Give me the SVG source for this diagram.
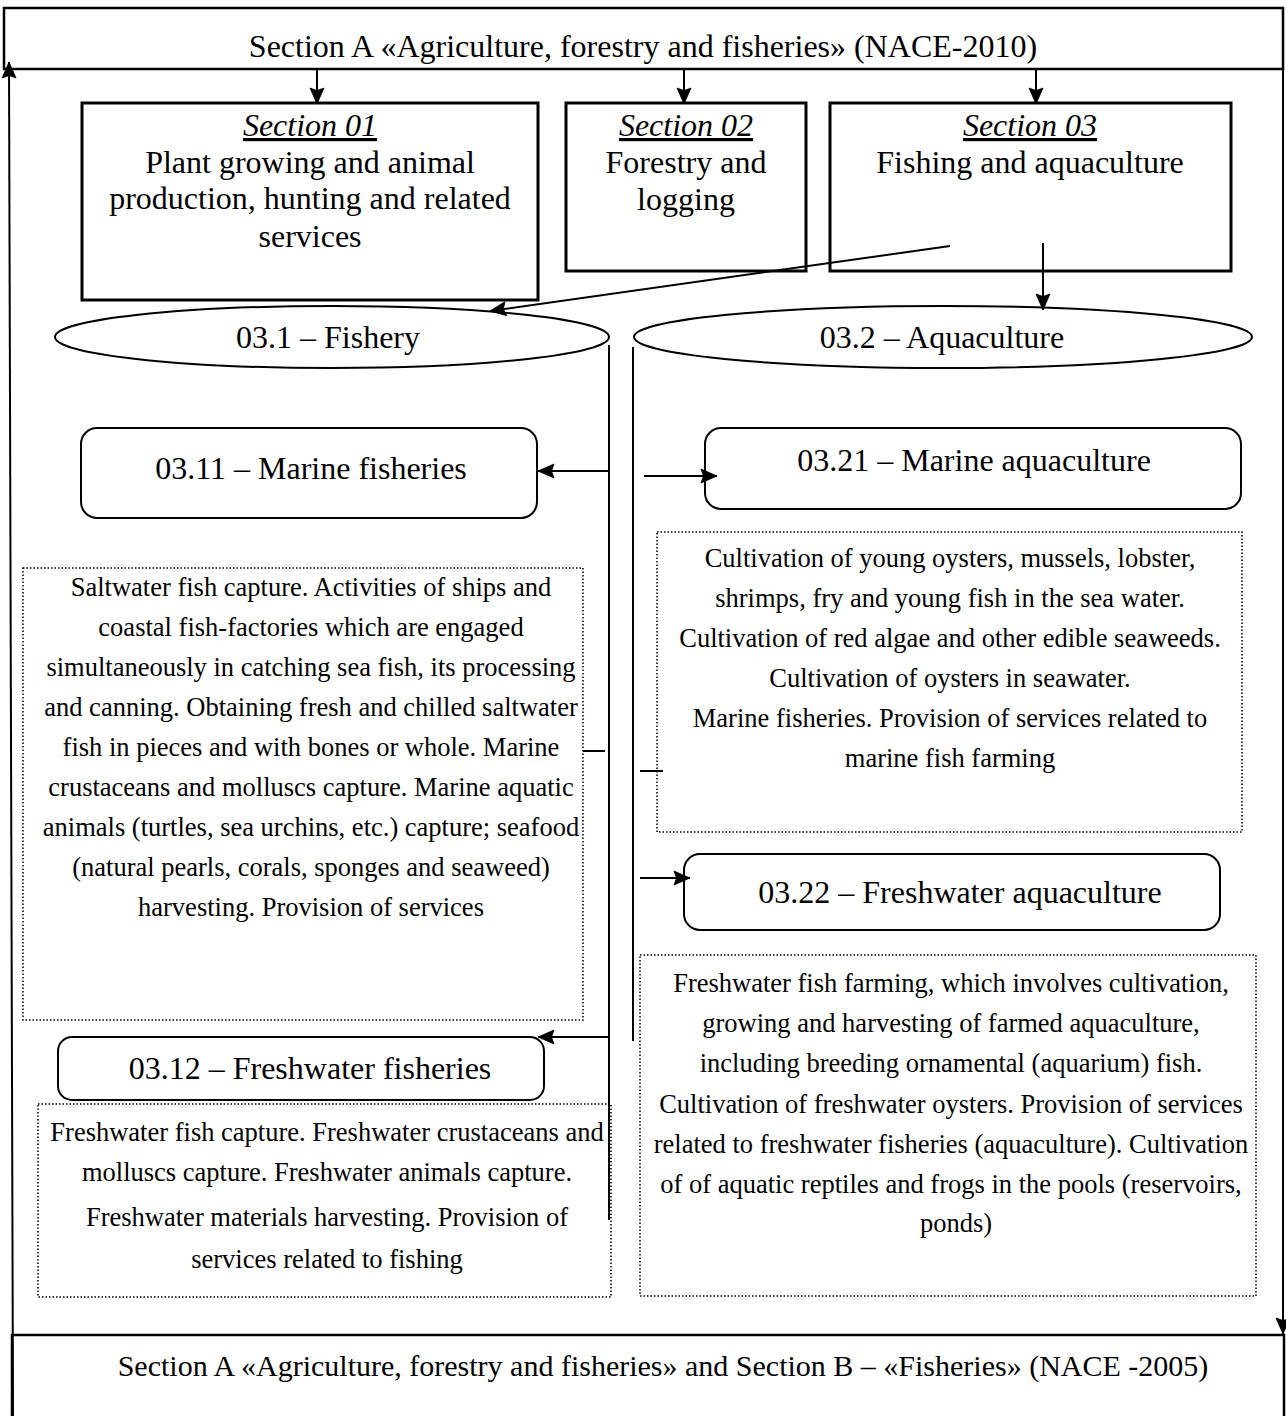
<svg xmlns="http://www.w3.org/2000/svg" width="1286" height="1416" viewBox="0 0 1286 1416">
<style>
text{fill:#000;text-anchor:middle;}
.t28{font-size:32px;}
.tb{font-size:30px;}
.t22{font-size:26.5px;}
.hd{font-style:italic;text-decoration:underline;}
.box{fill:none;stroke:#000;stroke-width:3;}
.rr{fill:none;stroke:#000;stroke-width:2;}
.dot{fill:none;stroke:#000;stroke-width:1.5;stroke-dasharray:1.5 2;}
.ln{fill:none;stroke:#000;stroke-width:2;}
</style>
<defs>
<marker id="ah" markerUnits="userSpaceOnUse" viewBox="0 0 16 16" markerWidth="16" markerHeight="16" refX="16" refY="8" orient="auto" overflow="visible">
<path d="M0,1 L16,8 L0,15 L2.5,8 Z" fill="#000" stroke="#000" stroke-width="0.8"/>
</marker>
</defs>
<rect width="1286" height="1416" fill="#fff"/>
<g font-family="Liberation Serif, serif">

<g id="top">
<rect x="4" y="8" width="1279" height="61" class="box" style="stroke-width:2.5"/>
<text class="t28" x="643" y="57">Section A «Agriculture, forestry and fisheries» (NACE-2010)</text>
</g>

<g id="bottom">
<rect x="12" y="1335" width="1272" height="120" class="box" style="stroke-width:2.5"/>
<text class="tb" x="663" y="1376">Section A «Agriculture, forestry and fisheries» and Section B – «Fisheries» (NACE -2005)</text>
</g>

<g id="s01">
<rect x="82" y="103" width="456" height="197" class="box"/>
<text class="t28 hd" x="310" y="136">Section 01</text>
<text class="t28" x="310" y="173">Plant growing and animal</text>
<text class="t28" x="310" y="209">production, hunting and related</text>
<text class="t28" x="310" y="247">services</text>
</g>

<g id="s02">
<rect x="566" y="103" width="240" height="168" class="box"/>
<text class="t28 hd" x="686" y="136">Section 02</text>
<text class="t28" x="686" y="173">Forestry and</text>
<text class="t28" x="686" y="210">logging</text>
</g>

<g id="s03">
<rect x="830" y="103" width="401" height="168" class="box"/>
<text class="t28 hd" x="1030" y="136">Section 03</text>
<text class="t28" x="1030" y="173">Fishing and aquaculture</text>
</g>

<g id="fishery">
<ellipse cx="332" cy="337" rx="277" ry="31" class="rr"/>
<text class="t28" x="328" y="348">03.1 – Fishery</text>
</g>

<g id="aquaculture">
<ellipse cx="943" cy="337" rx="309" ry="31" class="rr"/>
<text class="t28" x="942" y="348">03.2 – Aquaculture</text>
</g>

<g id="n0311">
<rect x="81" y="428" width="456" height="90" rx="16" class="rr"/>
<text class="t28" x="311" y="479">03.11 – Marine fisheries</text>
</g>

<g id="n0311d">
<rect x="23" y="568" width="560" height="452" class="dot"/>
<g class="t22">
<text x="311" y="596">Saltwater fish capture. Activities of ships and</text>
<text x="311" y="636">coastal fish-factories which are engaged</text>
<text x="311" y="676">simultaneously in catching sea fish, its processing</text>
<text x="311" y="716">and canning. Obtaining fresh and chilled saltwater</text>
<text x="311" y="756">fish in pieces and with bones or whole. Marine</text>
<text x="311" y="796">crustaceans and molluscs capture. Marine aquatic</text>
<text x="311" y="836">animals (turtles, sea urchins, etc.) capture; seafood</text>
<text x="311" y="876">(natural pearls, corals, sponges and seaweed)</text>
<text x="311" y="916">harvesting. Provision of services</text>
</g>
</g>

<g id="n0312">
<rect x="58" y="1037" width="486" height="63" rx="14" class="rr"/>
<text class="t28" x="310" y="1079">03.12 – Freshwater fisheries</text>
</g>

<g id="n0312d">
<rect x="38" y="1104" width="573" height="193" class="dot"/>
<g class="t22">
<text x="327" y="1141">Freshwater fish capture. Freshwater crustaceans and</text>
<text x="327" y="1181">molluscs capture. Freshwater animals capture.</text>
<text x="327" y="1226">Freshwater materials harvesting. Provision of</text>
<text x="327" y="1268">services related to fishing</text>
</g>
</g>

<g id="n0321">
<rect x="705" y="428" width="536" height="81" rx="16" class="rr"/>
<text class="t28" x="974" y="471">03.21 – Marine aquaculture</text>
</g>

<g id="n0321d">
<rect x="657" y="532" width="585" height="300" class="dot"/>
<g class="t22">
<text x="950" y="567">Cultivation of young oysters, mussels, lobster,</text>
<text x="950" y="607">shrimps, fry and young fish in the sea water.</text>
<text x="950" y="647">Cultivation of red algae and other edible seaweeds.</text>
<text x="950" y="687">Cultivation of oysters in seawater.</text>
<text x="950" y="727">Marine fisheries. Provision of services related to</text>
<text x="950" y="767">marine fish farming</text>
</g>
</g>

<g id="n0322">
<rect x="684" y="854" width="536" height="76" rx="16" class="rr"/>
<text class="t28" x="960" y="903">03.22 – Freshwater aquaculture</text>
</g>

<g id="n0322d">
<rect x="640" y="955" width="616" height="341" class="dot"/>
<g class="t22">
<text x="951" y="992">Freshwater fish farming, which involves cultivation,</text>
<text x="951" y="1032">growing and harvesting of farmed aquaculture,</text>
<text x="951" y="1072">including breeding ornamental (aquarium) fish.</text>
<text x="951" y="1113">Cultivation of freshwater oysters. Provision of services</text>
<text x="951" y="1153">related to freshwater fisheries (aquaculture). Cultivation</text>
<text x="951" y="1193">of of aquatic reptiles and frogs in the pools (reservoirs,</text>
<text x="956" y="1232">ponds)</text>
</g>
</g>
</g>

<g id="connectors">
<line x1="13" y1="1416" x2="9" y2="62" class="ln" marker-end="url(#ah)"/>
<line x1="1283" y1="69" x2="1283" y2="1334" class="ln" marker-end="url(#ah)"/>
<line x1="317" y1="69" x2="317" y2="104" class="ln" marker-end="url(#ah)"/>
<line x1="684" y1="69" x2="684" y2="104" class="ln" marker-end="url(#ah)"/>
<line x1="1036" y1="69" x2="1036" y2="104" class="ln" marker-end="url(#ah)"/>
<line x1="950" y1="246" x2="490" y2="311" class="ln" marker-end="url(#ah)"/>
<line x1="1043" y1="243" x2="1043" y2="310" class="ln" marker-end="url(#ah)"/>
<line x1="609" y1="345" x2="609" y2="1220" class="ln"/>
<line x1="633" y1="347" x2="633" y2="1041" class="ln"/>
<line x1="609" y1="471" x2="538" y2="471" class="ln" marker-end="url(#ah)"/>
<line x1="644" y1="476" x2="717" y2="476" class="ln" marker-end="url(#ah)"/>
<line x1="583" y1="751" x2="605" y2="751" class="ln"/>
<line x1="640" y1="771" x2="663" y2="771" class="ln"/>
<line x1="640" y1="878" x2="690" y2="878" class="ln" marker-end="url(#ah)"/>
<line x1="609" y1="1037" x2="538" y2="1037" class="ln" marker-end="url(#ah)"/>
</g>
</svg>
